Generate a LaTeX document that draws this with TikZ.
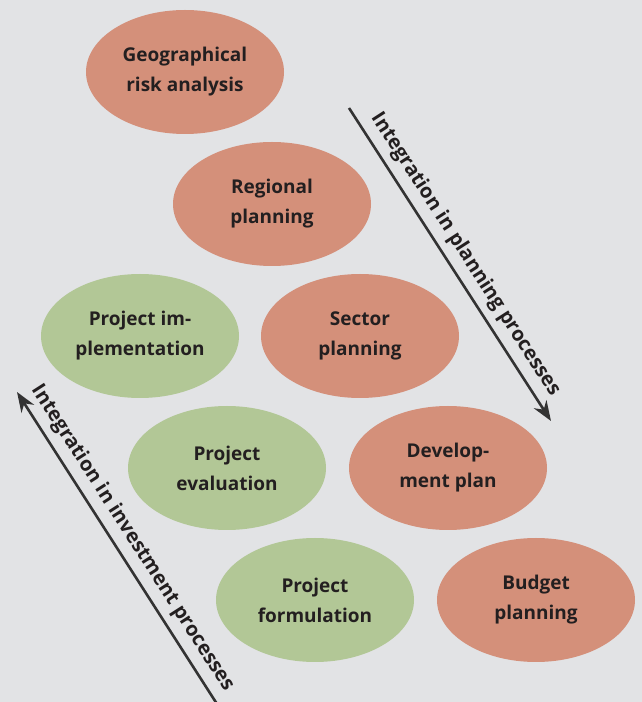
\documentclass[tikz,border=0pt]{standalone}
\usepackage{fontspec}
\setmainfont{Open Sans}
\usepackage{xcolor}
\usetikzlibrary{arrows.meta, shapes.geometric}

\definecolor{bgGray}{HTML}{E2E3E5}
\definecolor{plaRed}{HTML}{D4907A}
\definecolor{invGreen}{HTML}{B2C796}
\definecolor{txtDark}{HTML}{231F20}

\begin{document}
\begin{tikzpicture}[x=1pt, y=1pt,
    plan/.style={ellipse, fill=plaRed, minimum width=198pt, minimum height=124pt, inner sep=0pt, align=center, text=txtDark, font=\fontsize{19}{30}\selectfont\bfseries},
    inv/.style={ellipse, fill=invGreen, minimum width=198pt, minimum height=124pt, inner sep=0pt, align=center, text=txtDark, font=\fontsize{19}{30}\selectfont\bfseries},
    flow/.style={line width=2.6pt, draw=black!80, -{Stealth[length=20pt, width=15pt]}},
    flowtext/.style={text=txtDark, font=\fontsize{20}{22}\selectfont\bfseries, inner sep=7pt}]

    \fill[bgGray] (0,0) rectangle (642,702);
    \useasboundingbox (0,0) rectangle (642,702);

    % Planning chain
    \node[plan] (GEO) at (185,630) {Geographical\\risk analysis};
    \node[plan] (REG) at (272,498) {Regional\\planning};
    \node[plan] (SEC) at (360,366) {Sector\\planning};
    \node[plan] (DEV) at (448,234) {Develop-\\ment plan};
    \node[plan] (BUD) at (536,102) {Budget\\planning};

    % Investment chain
    \node[inv] (IMP) at (140,366) {Project im-\\plementation};
    \node[inv] (EVA) at (227,234) {Project\\evaluation};
    \node[inv] (FOR) at (315,102) {Project\\formulation};

    % Arrows
    \coordinate (plaTop) at (349,594);
    \coordinate (plaEnd) at (551,281);
    \coordinate (invTop) at (17,310);
    \coordinate (invEnd) at (217,-2);

    \draw[flow] (plaTop) -- (plaEnd)
        node[flowtext, midway, above, sloped] {Integration in planning processes};
    \draw[flow, {Stealth[length=20pt, width=15pt]}-] (invTop) -- (invEnd)
        node[flowtext, midway, above, sloped] {Integration in investment processes};
\end{tikzpicture}
\end{document}
